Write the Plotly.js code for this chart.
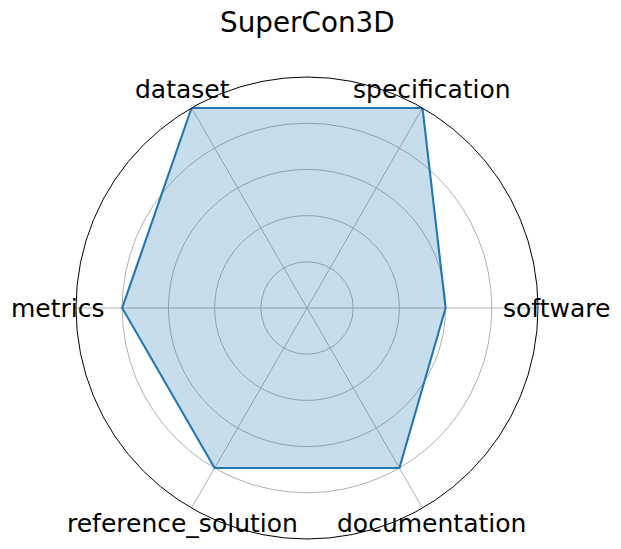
<!DOCTYPE html>
<html>
<head>
<script src="https://cdn.plot.ly/plotly-3.0.1.min.js"></script>
<style>html,body{margin:0;padding:0;background:#fff}#chart{width:621px;height:549px}</style>
</head>
<body>
<div id="chart"></div>
<script>
const categories = ["software", "specification", "dataset", "metrics", "reference_solution", "documentation"];
const values = [3, 5, 5, 4, 4, 4];
const radialTicks = [1, 2, 3, 4];
const titleText = "SuperCon3D";

const W = 621, H = 549;
const domX = [76 / W, 538 / W];
const domY = [10 / H, 472 / H];

const theta = categories.concat([categories[0]]);
const r = values.concat([values[0]]);

const data = [{
  type: "scatterpolar",
  r: r,
  theta: theta,
  mode: "lines",
  fill: "toself",
  fillcolor: "rgba(31,119,180,0.25)",
  line: {color: "#1f77b4", width: 2.1},
  hoverinfo: "skip"
}];

// category labels placed just outside the outer circle, centred on their angle
const cxPx = (domX[0] + domX[1]) / 2 * W;
const cyPx = (domY[0] + domY[1]) / 2 * H;
const Rpx = (domX[1] - domX[0]) * W / 2;
const padPx = 18;
const annotations = categories.map((c, i) => {
  const a = i * 2 * Math.PI / categories.length;
  const x = cxPx + (Rpx + padPx) * Math.cos(a);
  const y = cyPx + (Rpx + padPx) * Math.sin(a);
  return {
    text: c, xref: "paper", yref: "paper", x: x / W, y: y / H,
    xanchor: "center", yanchor: "middle", showarrow: false,
    yshift: Math.sin(a) > 0.1 ? 3 : 0,
    font: {size: 25, family: "DejaVu Sans", color: "#000"}
  };
});

const layout = {
  width: W, height: H,
  margin: {l: 0, r: 0, t: 0, b: 0},
  paper_bgcolor: "#fff",
  showlegend: false,
  font: {family: "DejaVu Sans", color: "#000"},
  title: {text: titleText, font: {size: 27.8, family: "DejaVu Sans", color: "#000"}, x: 0.495, xanchor: "center", y: 1 - 22 / H, yanchor: "middle"},
  annotations: annotations,
  polar: {
    domain: {x: domX, y: domY},
    bgcolor: "#fff",
    radialaxis: {
      range: [0, 5], tickvals: radialTicks, showticklabels: false, ticks: "",
      showline: false, gridcolor: "#b0b0b0", gridwidth: 0.8
    },
    angularaxis: {
      type: "category", categoryarray: categories, rotation: 0, direction: "counterclockwise",
      showline: true, linecolor: "#000", linewidth: 1,
      gridcolor: "#b0b0b0", gridwidth: 0.8, ticks: "", showticklabels: false
    }
  }
};

Plotly.newPlot("chart", data, layout, {displayModeBar: false});
</script>
</body>
</html>
